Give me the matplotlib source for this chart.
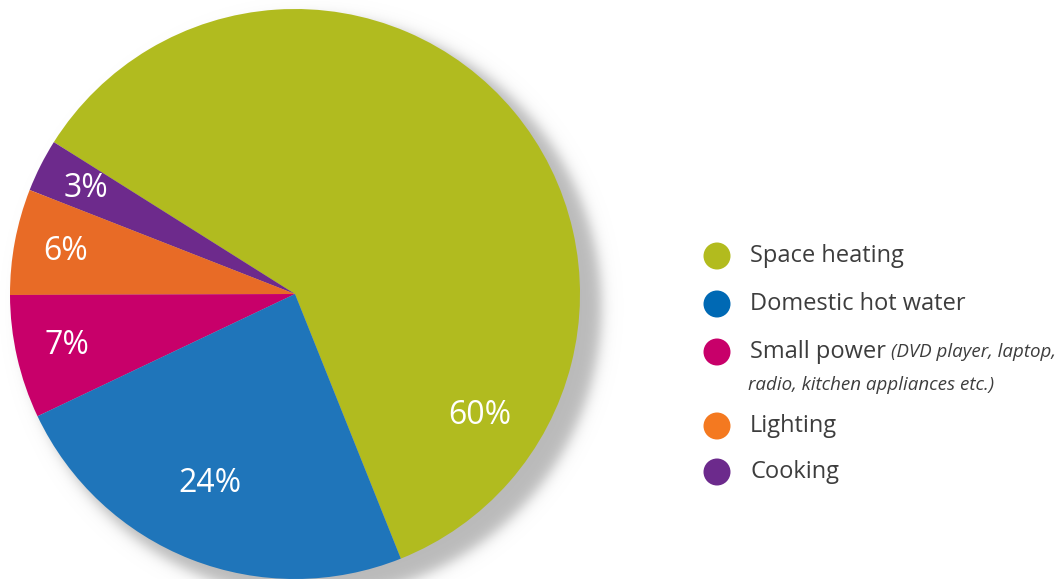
import numpy as np
import matplotlib.pyplot as plt
from matplotlib.patches import Circle

categories = ["Space heating", "Cooking", "Lighting", "Small power", "Domestic hot water"]
shares = [60, 3, 6, 7, 24]
pie_colors = ["#B1BB1F", "#6D2A8C", "#E86B26", "#C8006A", "#1F75BA"]

legend_names = ["Space heating", "Domestic hot water", "Small power", "Lighting", "Cooking"]
legend_colors = ["#B2BB1E", "#0069B4", "#C8006A", "#F47920", "#6C2A8C"]

W, H = 1064, 579
fig = plt.figure(figsize=(W / 100, H / 100), dpi=100)
ax = fig.add_axes([0, 0, 1, 1])

cx, cy, r = 295, H - 294, 285

# blurred drop shadow behind the pie (offset to lower right)
yy, xx = np.mgrid[0:H, 0:W]
sx, sy = cx + 16, (H - cy) + 13
d = np.hypot(xx - sx, yy - sy)
alpha = 0.5 * (1 - np.tanh((d - (r + 5)) / 8.0))
shadow = np.zeros((H, W, 4))
shadow[..., :3] = 0.73
shadow[..., 3] = alpha
ax.imshow(shadow, extent=(0, W, 0, H), origin="upper", zorder=0, interpolation="bilinear")

wedges, texts, autotexts = ax.pie(
    shares, colors=pie_colors, startangle=-68.2, counterclock=True,
    center=(cx, cy), radius=r, autopct="%d%%", pctdistance=0.82,
    wedgeprops=dict(linewidth=0), frame=False,
    textprops=dict(color="white", fontsize=23, family="Open Sans"))
for w in wedges:
    w.set_zorder(2)
for t in autotexts:
    t.set_zorder(3)
# the two big labels sit off the default spot in the original
autotexts[0].set_position((480, H - 415))
autotexts[4].set_position((210, H - 484))

ax.set_xlim(0, W)
ax.set_ylim(0, H)
ax.set_aspect("auto")
ax.axis("off")

# legend
rows = [256, 304, 352, 426, 472]
for name, col, y in zip(legend_names, legend_colors, rows):
    ax.add_patch(Circle((717, H - y), 13.5, color=col, lw=0, zorder=3))
    t = ax.text(750, H - y, name, fontsize=17, family="Open Sans",
                color="#3d3d3d", va="center", ha="left")
    if name == "Small power":
        fig.canvas.draw()
        bb = t.get_window_extent()
        ax.text(bb.x1 + 5, H - y, "(DVD player, laptop,", fontsize=13.5,
                family="Open Sans", style="italic", color="#3d3d3d",
                va="center", ha="left")
        ax.text(748, H - 385, "radio, kitchen appliances etc.)", fontsize=13.5,
                family="Open Sans", style="italic", color="#3d3d3d",
                va="center", ha="left")

fig.savefig("out.png", dpi=100)
